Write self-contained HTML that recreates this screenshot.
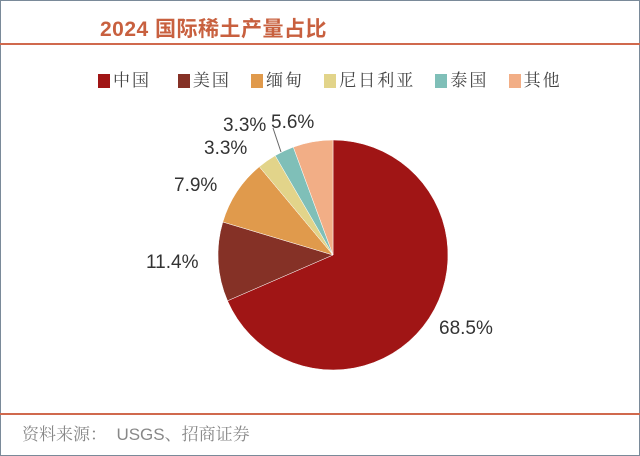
<!DOCTYPE html>
<html><head><meta charset="utf-8"><style>
body{margin:0;background:#fff}
.c{position:relative;width:640px;height:456px;overflow:hidden;background:#fff;font-family:"Liberation Sans","Noto Sans CJK SC",sans-serif}
.t{position:absolute;left:100px;top:13px;font-size:21px;font-weight:bold;color:#c8603f;letter-spacing:0.5px}
.l{position:absolute;font-size:19px;color:#333}
.lg{position:absolute;top:66px;left:98px;font-size:17px;color:#444;white-space:nowrap;letter-spacing:2px;font-family:"Liberation Sans","Noto Serif CJK SC",serif}
.lg span{display:inline-block;width:12px;height:14px;vertical-align:-2px;margin-right:3px}
</style></head><body><div class="c">
<div style="position:absolute;left:0;top:0;width:638px;height:454px;border:1px solid #7a8a99"></div>
<div class="t">2024 国际稀土产量占比</div>
<div style="position:absolute;left:0;top:43px;width:640px;height:2px;background:#d0694d"></div>
<div class="lg"><span style="background:#a01515"></span>中国&nbsp;&nbsp;&nbsp;&nbsp;<span style="background:#853126"></span>美国&nbsp;&nbsp;&nbsp;<span style="background:#e09a4c"></span>缅甸&nbsp;&nbsp;&nbsp;<span style="background:#e2d48a"></span>尼日利亚&nbsp;&nbsp;&nbsp;<span style="background:#7fbfb8"></span>泰国&nbsp;&nbsp;&nbsp;<span style="background:#f2ae86"></span>其他</div>
<svg width="640" height="456" style="position:absolute;left:0;top:0">
<g transform="translate(333,255)" stroke="#fff" stroke-width="0.5">
<path d="M0,0 L0,-115 A115,115 0 1,1 -105.5,45.8 Z" fill="#a01515"/>
<path d="M0,0 L-105.5,45.8 A115,115 0 0,1 -110.2,-33.0 Z" fill="#853126"/>
<path d="M0,0 L-110.2,-33.0 A115,115 0 0,1 -73.7,-88.3 Z" fill="#e09a4c"/>
<path d="M0,0 L-73.7,-88.3 A115,115 0 0,1 -57.8,-99.4 Z" fill="#e2d48a"/>
<path d="M0,0 L-57.8,-99.4 A115,115 0 0,1 -39.7,-107.9 Z" fill="#7fbfb8"/>
<path d="M0,0 L-39.7,-107.9 A115,115 0 0,1 0,-115 Z" fill="#f2ae86"/>
</g>
<line x1="281" y1="152" x2="273" y2="128" stroke="#666" stroke-width="1"/>
<line x1="0" y1="414" x2="640" y2="414" stroke="#d0694d" stroke-width="2"/>
</svg>
<div class="l" style="left:223px;top:115px">3.3%</div>
<div class="l" style="left:271px;top:112px">5.6%</div>
<div class="l" style="left:204px;top:138px">3.3%</div>
<div class="l" style="left:174px;top:175px">7.9%</div>
<div class="l" style="left:146px;top:252px">11.4%</div>
<div class="l" style="left:439px;top:318px">68.5%</div>
<div style="position:absolute;left:22px;top:420px;font-size:17px;color:#888;font-family:'Liberation Sans','Noto Serif CJK SC',serif">资料来源：&nbsp;&nbsp;USGS、招商证券</div>
</div></body></html>
